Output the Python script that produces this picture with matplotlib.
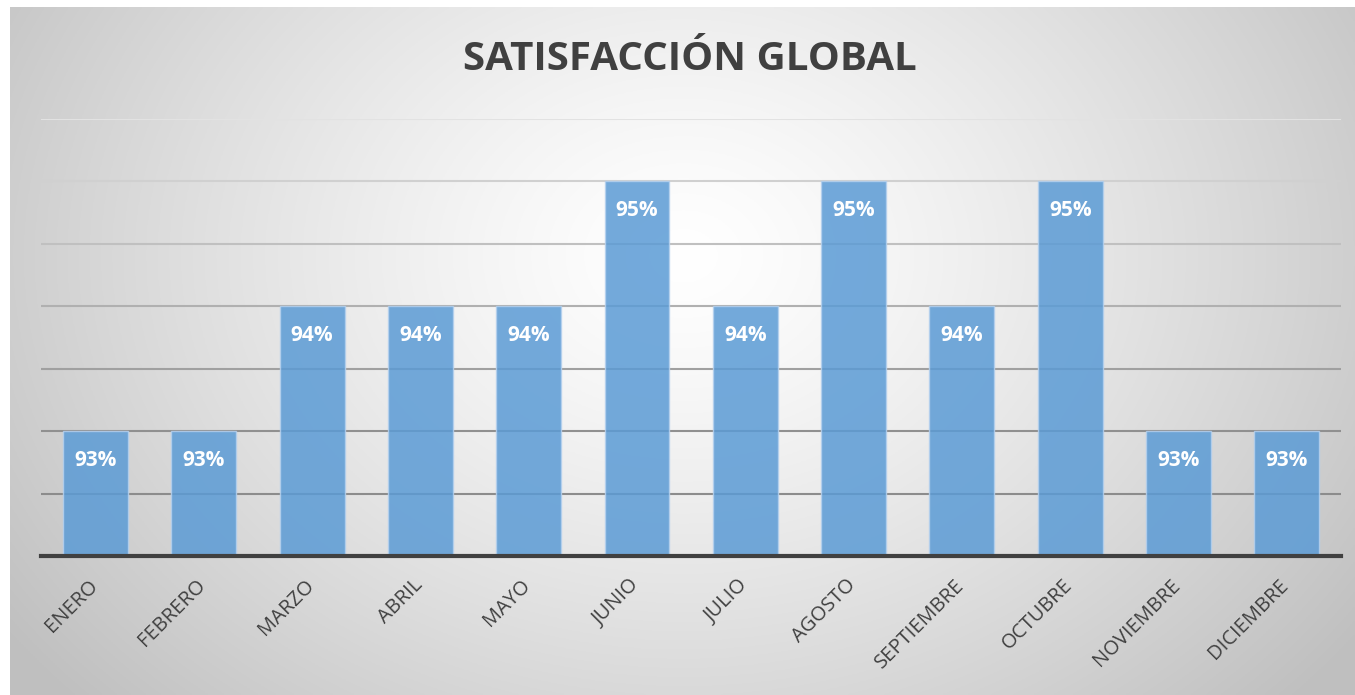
import numpy as np
import matplotlib
matplotlib.use("Agg")
import matplotlib.pyplot as plt
import matplotlib.transforms as mtransforms

months = ["ENERO", "FEBRERO", "MARZO", "ABRIL", "MAYO", "JUNIO", "JULIO",
          "AGOSTO", "SEPTIEMBRE", "OCTUBRE", "NOVIEMBRE", "DICIEMBRE"]
values = [0.93, 0.93, 0.94, 0.94, 0.94, 0.95, 0.94, 0.95, 0.94, 0.95, 0.93, 0.93]
title = "SATISFACCIÓN GLOBAL"

W, H = 1355, 695
fig = plt.figure(figsize=(W / 100, H / 100), dpi=100)
fig.patch.set_facecolor("white")

# background radial gradient
bg = fig.add_axes([10 / W, 0, 1 - 10 / W, (H - 7) / H])
bg.set_axis_off()
ny, nx = 300, 600
yy, xx = np.mgrid[0:ny, 0:nx]
cx, cy = 0.50 * nx, 0.36 * ny
r = np.sqrt(((xx - cx) / (0.62 * nx)) ** 2 + ((yy - cy) / (0.95 * ny)) ** 2)
r = np.clip(r, 0, 1)
v = 1.0 - 0.25 * r ** 1.3
img = np.dstack([v, v, v])
bg.imshow(img, aspect="auto", extent=[0, 1, 0, 1], origin="upper")
bg.set_xlim(0, 1)
bg.set_ylim(0, 1)

ax = fig.add_axes([41.3 / W, 1 - 556 / H, (1341 - 41.3) / W, (556 - 119) / H])
ax.patch.set_alpha(0)
x = np.arange(len(months))
ax.set_xlim(-0.5, len(months) - 0.5)
ax.set_ylim(0.92, 0.955)

grid_vals = np.arange(0.925, 0.9551, 0.005)
grid_cols = ["#8c8c8c", "#909090", "#a0a0a0", "#b0b0b0", "#c0c0c0", "#d0d0d0", "#e2e2e2"]
for gv, gc in zip(grid_vals, grid_cols):
    ax.axhline(gv, color=gc, lw=1.5, zorder=1)

bars = ax.bar(x, values, width=0.6, bottom=0, color="#5b9bd5", alpha=0.85,
              edgecolor="#b4d0ee", linewidth=1.0, zorder=2)
for xi, val in zip(x, values):
    ax.text(xi, val - 0.00235, f"{val:.0%}", ha="center", va="center",
            color="white", fontsize=15, fontweight="bold",
            family="Open Sans", zorder=4)

for s in ["top", "right", "left"]:
    ax.spines[s].set_visible(False)
ax.spines["bottom"].set_color("#404040")
ax.spines["bottom"].set_linewidth(3)
ax.spines["bottom"].set_zorder(5)
ax.set_yticks([])
ax.set_xticks(x)
ax.set_xticklabels(months, rotation=45, ha="right", va="top",
                   rotation_mode="anchor", fontsize=14.5, color="#404040",
                   family="Open Sans")
ax.tick_params(axis="x", length=0, pad=14)
offset = mtransforms.ScaledTranslation(-8 / 100, 0, fig.dpi_scale_trans)
for lbl in ax.get_xticklabels():
    lbl.set_transform(lbl.get_transform() + offset)

fig.text(0.509, 1 - 59 / H, title, ha="center", va="center", fontsize=29,
         fontweight="bold", color="#404040", family="Open Sans")

fig.savefig("out.png", dpi=100)
